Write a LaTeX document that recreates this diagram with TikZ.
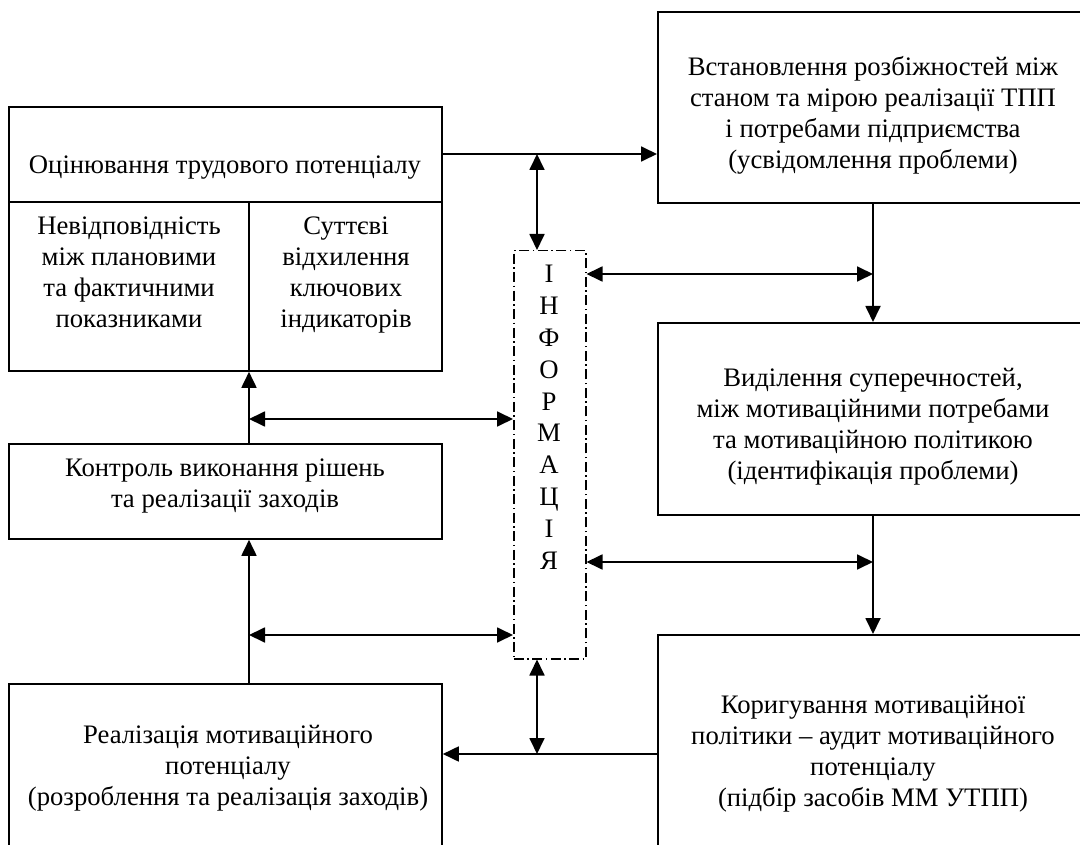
\documentclass[tikz,border=0pt]{standalone}
\usepackage{fontspec}
\setmainfont{Liberation Serif}
\usetikzlibrary{arrows.meta}
\begin{document}
\begin{tikzpicture}[x=1pt,y=-1pt,
  box/.style={draw,line width=1.8pt,rectangle,inner sep=0pt,anchor=north west},
  lbl/.style={align=center,font=\fontsize{26.7}{31}\selectfont,inner sep=0pt,yshift=-3.5pt,
    execute at begin node=\strut, execute at end node=\strut},
  conn/.style={line width=1.8pt,-{Triangle[length=16pt,width=15pt]}},
  dconn/.style={line width=1.8pt,{Triangle[length=16pt,width=15pt]}-{Triangle[length=16pt,width=15pt]}},
  infobox/.style={draw,line width=1.5pt,dash pattern=on 10pt off 3.5pt on 1.5pt off 3.5pt,rectangle,inner sep=0pt,anchor=north west}]
\path[use as bounding box] (0,0) rectangle (1080,845);
\clip (0,0) rectangle (1080,845);
% boxes
\node[box,minimum width=433pt,minimum height=264pt] (b1) at (8,106) {};
\node[box,minimum width=432pt,minimum height=191pt] (b2) at (657,11) {};
\node[box,minimum width=432pt,minimum height=192pt] (b3) at (657,322) {};
\node[box,minimum width=432pt,minimum height=240pt] (b4) at (657,634) {};
\node[box,minimum width=433pt,minimum height=95pt] (b5) at (8,443) {};
\node[box,minimum width=433pt,minimum height=180pt] (b6) at (8,683) {};
\node[infobox,minimum width=72pt,minimum height=408pt] (info) at (513,250) {};
% helper coordinates
\coordinate (r154) at (0,154);
\coordinate (r202) at (0,202);
\coordinate (r274) at (0,274);
\coordinate (r419) at (0,419);
\coordinate (r562) at (0,562);
\coordinate (r635) at (0,635);
\coordinate (r754) at (0,754);
\coordinate (ax) at (537,0);
\coordinate (rx) at (873,0);
\coordinate (lx) at (249,0);
% dividers in b1
\draw[line width=1.8pt] (b1.west |- r202) -- (b1.east |- r202);
\draw[line width=1.8pt] (lx |- r202) -- (lx |- b1.south);
% texts
\node[lbl] (t1) at (225,164) {Оцінювання трудового потенціалу};
\node[lbl] (t1a) at (129,273.5) {Невідповідність\\між плановими\\та фактичними\\показниками};
\node[lbl] (t1b) at (346,273.5) {Суттєві\\відхилення\\ключових\\індикаторів};
\node[lbl] (t2) at (873,114) {Встановлення розбіжностей між\\станом та мірою реалізації ТПП\\і потребами підприємства\\(усвідомлення проблеми)};
\node[lbl] (t3) at (873,425) {Виділення суперечностей,\\між мотиваційними потребами\\та мотиваційною політикою\\(ідентифікація проблеми)};
\node[lbl] (t4) at (873,752.5) {Коригування мотиваційної\\політики – аудит мотиваційного\\потенціалу\\(підбір засобів ММ УТПП)};
\node[lbl] (t5) at (225,484) {Контроль виконання рішень\\та реалізації заходів};
\node[lbl] (t6) at (228,767) {Реалізація мотиваційного\\потенціалу\\(розроблення та реалізація заходів)};
\node[lbl,font=\fontsize{26.7}{31.9}\selectfont] (t7) at (549,418.5) {І\\Н\\Ф\\О\\Р\\М\\А\\Ц\\І\\Я};
% connectors
\draw[conn] (b1.east |- r154) -- (b2.west |- r154);
\draw[dconn] (ax |- r154) -- (ax |- info.north);
\draw[dconn] (ax |- info.south) -- (ax |- r754);
\draw[conn] (b4.west |- r754) -- (b6.east |- r754);
\draw[conn] (rx |- b2.south) -- (rx |- b3.north);
\draw[dconn] (info.east |- r274) -- (rx |- r274);
\draw[conn] (rx |- b3.south) -- (rx |- b4.north);
\draw[dconn] (info.east |- r562) -- (rx |- r562);
\draw[conn] (lx |- b6.north) -- (lx |- b5.south);
\draw[dconn] (lx |- r635) -- (info.west |- r635);
\draw[conn] (lx |- b5.north) -- (lx |- b1.south);
\draw[dconn] (lx |- r419) -- (info.west |- r419);
\end{tikzpicture}
\end{document}
